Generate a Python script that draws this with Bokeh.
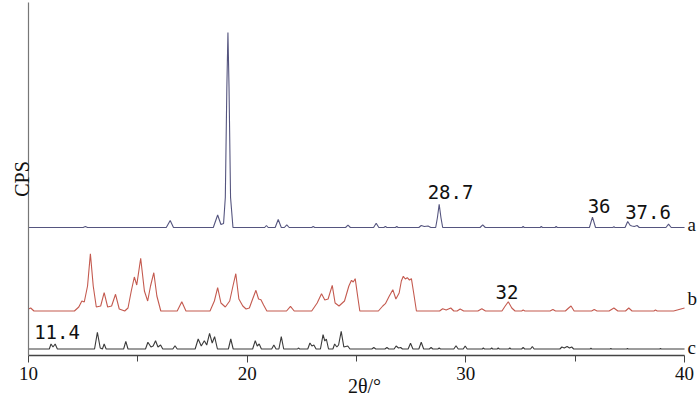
from bokeh.plotting import figure
from bokeh.models import Range1d, FixedTicker, Label, ColumnDataSource
from bokeh.embed import file_html
from bokeh.resources import INLINE

# ---- data: digitised XRD patterns (2theta, intensity above each trace's own baseline) ----
a_points = [
    (10.0, 0), (12.5, 0), (12.6, 10), (12.7, 0), (16.3, 0), (16.48, 70), (16.63, 0),
    (18.45, 0), (18.65, 125), (18.8, 30), (18.92, 40), (19.0, 300), (19.07, 1400),
    (19.12, 1950), (19.17, 1400), (19.24, 300), (19.35, 0), (20.8, 0), (20.88, 20),
    (20.96, 0), (21.28, 0), (21.42, 80), (21.56, 0), (21.7, 0), (21.81, 27), (21.92, 0),
    (22.95, 0), (23.02, 10), (23.09, 0), (24.5, 0), (24.61, 23), (24.72, 0), (25.78, 0),
    (25.9, 43), (26.02, 0), (26.25, 0), (26.32, 10), (26.39, 0), (26.78, 0), (26.84, 10),
    (26.9, 0), (27.85, 0), (27.96, 20), (28.1, 10), (28.27, 15), (28.4, 0), (28.62, 0),
    (28.7, 100), (28.78, 233), (28.86, 100), (28.94, 0), (30.65, 0), (30.77, 27),
    (30.89, 0), (32.57, 0), (32.62, 10), (32.67, 0), (33.4, 0), (33.45, 10), (33.5, 0),
    (34.08, 0), (34.13, 10), (34.18, 0), (35.65, 0), (35.79, 103), (35.93, 0), (36.72, 0),
    (36.77, 7), (36.82, 0), (37.28, 0), (37.4, 60), (37.52, 20), (37.6, 15), (37.7, 10),
    (37.83, 20), (37.93, 0), (39.15, 0), (39.27, 33), (39.39, 0), (40.0, 0),
]
b_points = [
    (10.0, 20), (10.1, 30), (10.25, 0), (12.1, 0), (12.3, 40), (12.44, 100), (12.55, 90),
    (12.7, 250), (12.83, 573), (12.96, 250), (13.1, 40), (13.3, 50), (13.46, 183),
    (13.62, 40), (13.8, 50), (13.98, 167), (14.15, 20), (14.4, 0), (14.55, 30), (14.7, 200),
    (14.84, 340), (14.95, 260), (15.13, 527), (15.3, 200), (15.45, 100), (15.58, 250),
    (15.73, 383), (15.87, 150), (16.05, 0), (16.8, 0), (17.01, 93), (17.2, 0), (18.3, 0),
    (18.5, 100), (18.65, 233), (18.8, 80), (19.0, 40), (19.2, 100), (19.35, 250),
    (19.48, 373), (19.62, 120), (19.8, 50), (19.95, 20), (20.1, 30), (20.25, 120),
    (20.4, 207), (20.52, 120), (20.63, 113), (20.75, 60), (20.9, 0), (21.8, 0), (21.98, 47),
    (22.15, 0), (22.95, 0), (23.2, 80), (23.4, 173), (23.55, 110), (23.7, 120), (23.89, 257),
    (24.02, 80), (24.2, 50), (24.45, 100), (24.65, 250), (24.77, 307), (24.85, 290),
    (24.94, 323), (25.05, 150), (25.15, 0), (26.0, 0), (26.2, 50), (26.32, 73), (26.5, 150),
    (26.66, 213), (26.8, 120), (26.95, 180), (27.05, 300), (27.14, 347), (27.23, 320),
    (27.32, 333), (27.42, 310), (27.51, 323), (27.6, 200), (27.74, 0), (28.8, 0),
    (28.94, 23), (29.1, 10), (29.31, 30), (29.45, 0), (29.6, 0), (29.74, 20), (29.9, 0),
    (30.55, 0), (30.73, 23), (30.9, 0), (31.65, 0), (31.8, 50), (31.94, 93), (32.1, 30),
    (32.25, 0), (32.55, 0), (32.62, 10), (32.7, 0), (33.85, 0), (33.98, 15), (34.1, 0),
    (34.55, 0), (34.7, 30), (34.81, 50), (34.95, 0), (35.75, 0), (35.87, 15), (36.0, 0),
    (36.55, 0), (36.77, 30), (36.95, 0), (37.3, 0), (37.45, 30), (37.6, 0), (38.6, 0),
    (38.67, 10), (38.75, 0), (39.5, 0), (40.0, 30),
]
c_points = [
    (10.0, 0), (10.95, 0), (11.03, 50), (11.12, 20), (11.22, 50), (11.32, 0), (13.02, 0),
    (13.15, 167), (13.28, 10), (13.38, 0), (13.46, 50), (13.55, 0), (14.35, 0), (14.45, 77),
    (14.55, 0), (15.35, 0), (15.46, 67), (15.6, 20), (15.7, 30), (15.81, 83), (15.92, 20),
    (16.04, 40), (16.14, 0), (16.6, 0), (16.7, 33), (16.8, 0), (17.62, 0), (17.76, 100),
    (17.9, 30), (18.04, 83), (18.15, 40), (18.28, 157), (18.4, 60), (18.51, 123), (18.64, 0),
    (19.14, 0), (19.25, 100), (19.36, 0), (20.25, 0), (20.37, 83), (20.46, 30), (20.55, 50),
    (20.65, 0), (21.12, 0), (21.22, 40), (21.32, 0), (21.45, 0), (21.56, 123), (21.67, 0),
    (22.3, 0), (22.34, 10), (22.4, 0), (22.77, 0), (22.87, 60), (22.96, 30), (23.05, 40),
    (23.15, 0), (23.35, 0), (23.47, 143), (23.55, 80), (23.62, 100), (23.72, 0), (23.92, 0),
    (24.0, 50), (24.1, 20), (24.18, 40), (24.3, 177), (24.42, 20), (24.6, 30), (24.7, 0),
    (25.7, 0), (25.79, 15), (25.88, 0), (26.3, 0), (26.39, 15), (26.48, 0), (26.72, 0),
    (26.81, 30), (26.92, 10), (27.02, 15), (27.1, 0), (27.36, 0), (27.47, 57), (27.58, 0),
    (27.85, 0), (27.96, 67), (28.07, 0), (28.33, 0), (28.41, 15), (28.49, 0), (28.72, 0),
    (28.78, 10), (28.84, 0), (29.45, 0), (29.55, 33), (29.65, 0), (29.88, 0), (29.97, 30),
    (30.06, 0), (30.75, 0), (30.8, 10), (30.85, 0), (31.13, 0), (31.18, 10), (31.23, 0),
    (31.43, 0), (31.48, 10), (31.53, 0), (31.96, 0), (32.01, 10), (32.06, 0), (32.55, 0),
    (32.62, 15), (32.69, 0), (32.96, 0), (33.04, 25), (33.12, 0), (34.3, 0), (34.39, 20),
    (34.5, 10), (34.63, 25), (34.74, 10), (34.84, 20), (34.93, 0), (35.68, 0), (35.72, 7),
    (35.76, 0), (36.6, 0), (36.63, 7), (36.66, 0), (37.36, 0), (37.39, 7), (37.42, 0),
    (38.87, 0), (38.9, 7), (38.93, 0), (40.0, 0),
]
trace_names = ["a", "b", "c"]
trace_offsets = [1280, 445, 65]          # vertical stacking of the three patterns
peak_labels = ["28.7", "36", "37.6", "32", "11.4"]
peak_label_x = [28.7, 36.0, 37.6, 32.0, 11.4]
x_ticks = [10, 20, 30, 40]
x_minor_ticks = [15, 25, 35]

colors = ["#55557f", "#c45a4f", "#3a3a3a"]

p = figure(width=700, height=404, output_backend="svg", toolbar_location=None,
           x_range=Range1d(10, 40.73), y_range=Range1d(0, 3530),
           min_border_left=28, min_border_right=0, min_border_top=2, min_border_bottom=49)
p.outline_line_color = None
p.xgrid.visible = False
p.ygrid.visible = False

for pts, off, col in zip([a_points, b_points, c_points], trace_offsets, colors):
    src = ColumnDataSource(dict(x=[q[0] for q in pts], y=[q[1] + off for q in pts]))
    p.line("x", "y", source=src, line_color=col, line_width=1.1)

xa = p.xaxis[0]
xa.ticker = FixedTicker(ticks=x_ticks, minor_ticks=x_minor_ticks)
xa.bounds = (10, 40)
xa.axis_line_color = "#444444"
xa.axis_line_width = 1.3
xa.major_tick_line_color = "#444444"
xa.minor_tick_line_color = "#444444"
xa.major_tick_in = 0
xa.major_tick_out = 7
xa.minor_tick_in = 0
xa.minor_tick_out = 6
xa.major_label_text_font = "Liberation Serif"
xa.major_label_text_font_size = "19px"
xa.major_label_text_color = "#111111"
xa.major_label_standoff = 4
xa.axis_label = "2θ/°"
xa.axis_label_text_font = "Liberation Serif"
xa.axis_label_text_font_style = "normal"
xa.axis_label_text_font_size = "20px"
xa.axis_label_text_color = "#111111"
xa.axis_label_standoff = -8

ya = p.yaxis[0]
ya.ticker = FixedTicker(ticks=[])
ya.axis_line_color = "#777777"
ya.axis_line_width = 1.2
ya.major_tick_out = 0
ya.major_tick_in = 0
ya.minor_tick_out = 0
ya.minor_tick_in = 0
ya.major_label_text_font_size = "0px"
ya.major_label_standoff = 0
ya.axis_label = "CPS"
ya.axis_label_text_font = "Liberation Serif"
ya.axis_label_text_font_style = "normal"
ya.axis_label_text_font_size = "20px"
ya.axis_label_text_color = "#111111"
ya.axis_label_standoff = -4

# peak annotations
label_dx = [13.1, 2.0, 16.0, -2.6, -2.1]
label_y = [1640, 1500, 1440, 640, 240]
for txt, xv, dx, yv in zip(peak_labels, peak_label_x, label_dx, label_y):
    p.add_layout(Label(x=xv, y=yv, x_offset=dx, text=txt, text_align="center",
                       text_baseline="alphabetic", text_font="DejaVu Sans Mono",
                       text_font_size="19px", text_color="#111111"))

# trace names a, b, c at the right end
name_y = [1310, 570, 80]
for nm, yv in zip(trace_names, name_y):
    p.add_layout(Label(x=40, y=yv, x_offset=3, text=nm, text_align="left",
                       text_baseline="alphabetic", text_font="Liberation Serif",
                       text_font_size="19px", text_color="#111111"))

open("out.html", "w").write(file_html(p, INLINE))
